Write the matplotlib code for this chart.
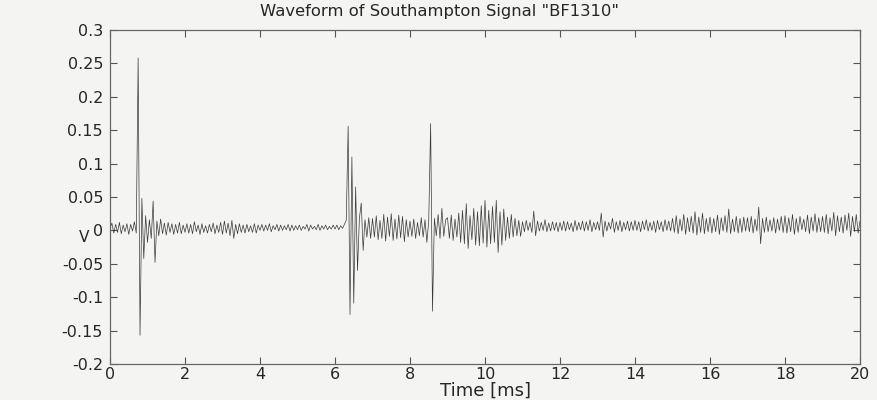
import numpy as np
import matplotlib
matplotlib.use("Agg")
import matplotlib.pyplot as plt

# Sample spacing of the waveform in milliseconds
sample_step_ms = 0.05

# Waveform samples in millivolts, one row per millisecond (20 samples each)
wave_mv = [
    3, 11, -4, 9, -3, 12, -5, 8, -2, 10, -6, 9, -1, 13, -4, 258, -157, 48, -42, 22,
    -18, 16, -12, 44, -48, 14, -8, 17, -5, 11, -7, 12, -3, 10, -6, 9, -4, 12, -5, 8,
    -3, 10, -4, 9, -5, 13, -2, 8, -6, 10, -3, 7, -4, 9, -2, 11, -5, 8, -3, 12,
    -6, 14, -4, 11, -8, 15, -12, 9, -5, 10, -3, 8, -4, 9, -2, 7, -3, 10, -4, 8,
    0, 9, -1, 8, 0, 10, -2, 7, 1, 9, -1, 8, 0, 7, 1, 9, -1, 8, 0, 7,
    1, 8, 0, 6, 2, 9, -1, 8, 2, 6, 1, 9, 0, 7, 2, 8, 1, 6, 2, 8,
    2, 8, 1, 7, 3, 9, 15, 156, -126, 110, -109, 65, -60, 18, 41, -30, 16, -10, 19, -12,
    18, -10, 22, -14, 15, -12, 24, -16, 20, -9, 25, -15, 17, -13, 23, -11, 21, -17, 16, -10,
    14, -9, 17, -12, 12, -8, 19, -10, 16, -18, 15, 160, -121, 18, -8, 24, -12, 33, -9, 16,
    19, -12, 23, -15, 17, -10, 26, -18, 30, -20, 40, -27, 22, -14, 33, -22, 28, -23, 37, -19,
    45, -25, 30, -20, 36, -18, 45, -33, 28, -22, 32, -15, 20, -12, 24, -10, 18, -8, 15, -9,
    13, -2, 15, 0, 12, -3, 29, -8, 14, -1, 12, 0, 16, -2, 11, -1, 13, 0, 12, -2,
    12, 0, 14, -1, 13, 1, 11, -2, 15, 0, 12, 1, 14, -1, 13, 0, 16, -2, 12, 1,
    13, 0, 26, -10, 14, -1, 12, 2, 18, -3, 13, 0, 15, -2, 12, 1, 14, -1, 13, 0,
    15, 0, 13, -2, 14, 1, 16, -1, 12, 0, 14, -3, 15, 1, 13, -2, 16, 0, 14, -1,
    18, -3, 22, -5, 17, -1, 24, -6, 19, -2, 21, -4, 28, -7, 20, -3, 26, -5, 18, -2,
    20, -4, 18, -2, 23, -6, 19, -1, 22, -3, 32, -5, 17, -2, 21, -4, 18, -3, 20, -1,
    19, -2, 21, -4, 17, -1, 35, -20, 18, -3, 20, -2, 16, -1, 19, -4, 17, 0, 21, -3,
    22, -4, 19, -2, 24, -6, 18, -3, 21, 1, 17, -2, 23, -5, 20, -1, 25, -3, 19, -2,
    21, -3, 24, -5, 19, -1, 27, -8, 22, -2, 20, -4, 23, 0, 26, -9, 21, -2, 24, -4,
    14,
]

x_ticks = [0, 2, 4, 6, 8, 10, 12, 14, 16, 18, 20]
y_ticks = [-0.2, -0.15, -0.1, -0.05, 0, 0.05, 0.1, 0.15, 0.2, 0.25, 0.3]
y_tick_labels = ["-0.2", "-0.15", "-0.1", "-0.05", "0", "0.05", "0.1",
                 "0.15", "0.2", "0.25", "0.3"]

plt.rcParams["font.family"] = ["DejaVu Sans"]

paper = "#f4f4f2"
ink = "#262626"
fig = plt.figure(figsize=(8.78, 4.0), dpi=100, facecolor=paper)
ax = fig.add_axes([0.1253, 0.09, 0.8542, 0.835])
ax.set_facecolor(paper)

volts = np.array(wave_mv, dtype=float) / 1000.0
t_ms = np.arange(len(volts)) * sample_step_ms
ax.plot(t_ms, volts, color="#3a3a3a", linewidth=0.5)

ax.set_xlim(0, 20)
ax.set_ylim(-0.2, 0.3)
ax.set_xticks(x_ticks)
ax.set_xticklabels([str(v) for v in x_ticks])
ax.set_yticks(y_ticks)
ax.set_yticklabels(y_tick_labels)

ax.tick_params(direction="in", length=5, width=0.8, top=True, right=True,
               labelsize=11.5, colors="#555555", labelcolor=ink)
ax.tick_params(axis="x", pad=2)
ax.tick_params(axis="y", pad=5)
for spine in ax.spines.values():
    spine.set_color("#666666")
    spine.set_linewidth(0.9)

# Title is centred on the whole figure rather than on the axes
ax.set_title('Waveform of Southampton Signal "BF1310"', fontsize=11.8,
             color=ink, pad=10, x=0.4387)
ax.set_xlabel("Time [ms]", fontsize=13, color=ink, labelpad=0)
ax.set_ylabel("V", fontsize=11, color=ink, rotation=0, ha="center", va="center")
ax.yaxis.set_label_coords(-0.0347, 0.38)

fig.savefig("out.png", dpi=100, facecolor=paper)
